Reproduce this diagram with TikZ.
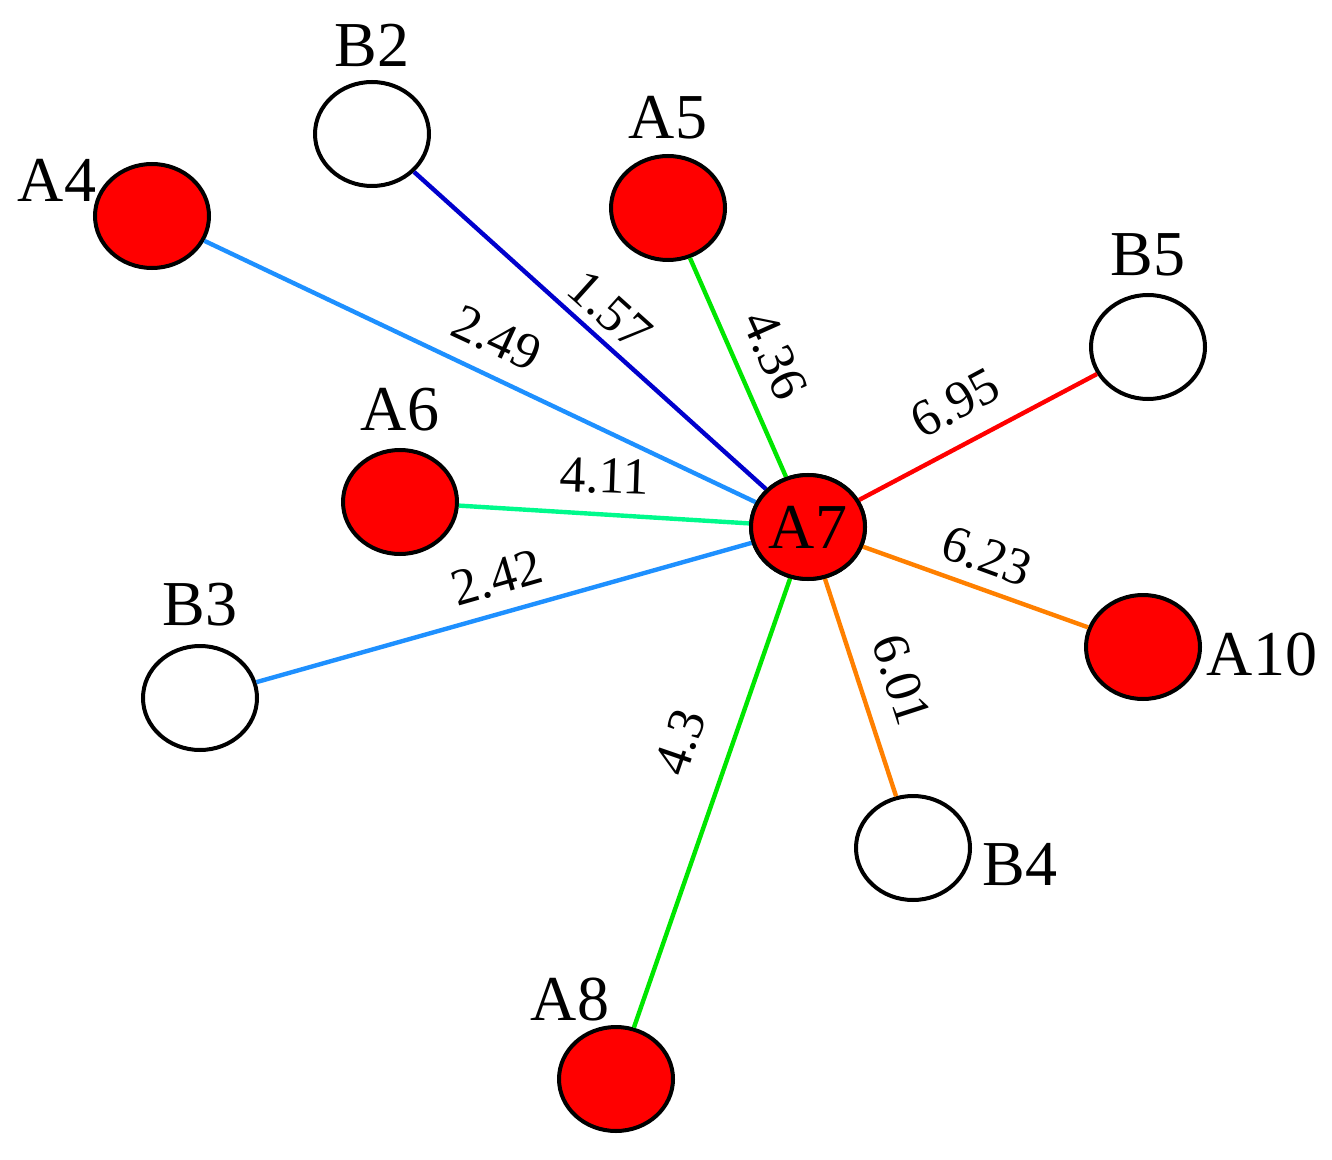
\documentclass[tikz,border=0pt]{standalone}
\usepackage{fontspec}
\setmainfont{Liberation Serif}
\usetikzlibrary{shapes.geometric}
\begin{document}
\begin{tikzpicture}[x=0.5pt,y=-0.5pt,
  v/.style={draw=black,line width=2pt,ellipse,minimum width=57pt,minimum height=52pt,inner sep=0pt},
  red/.style={v,fill=red},
  white/.style={v,fill=white},
  nl/.style={font=\fontsize{32}{32}\selectfont},
  el/.style={font=\fontsize{26}{26}\selectfont},
  e/.style={line width=2.2pt}]
\useasboundingbox (0,0) rectangle (1332,1160);
\definecolor{lb}{RGB}{30,144,255}
\definecolor{db}{RGB}{0,0,205}
\definecolor{gr}{RGB}{0,230,0}
\definecolor{sg}{RGB}{0,250,140}
\definecolor{og}{RGB}{255,128,0}
\definecolor{rd}{RGB}{255,0,0}
\node[white] (B2) at (372,134) {};
\node[red] (A4) at (152,216) {};
\node[red] (A5) at (668,208) {};
\node[white] (B5) at (1148,347) {};
\node[red] (A6) at (400,502) {};
\node[white] (B3) at (200,698) {};
\node[red] (A10) at (1143,647) {};
\node[white] (B4) at (913,848) {};
\node[red] (A8) at (616,1079) {};
\node[red,nl] (A7) at (808,527) {A7};
\draw[e,db] (B2) -- (A7);
\draw[e,lb] (A4) -- (A7);
\draw[e,gr] (A5) -- (A7);
\draw[e,rd] (B5) -- (A7);
\draw[e,sg] (A6) -- (A7);
\draw[e,lb] (B3) -- (A7);
\draw[e,og] (A10) -- (A7);
\draw[e,og] (B4) -- (A7);
\draw[e,gr] (A8) -- (A7);
\node[red,nl] at (A7) {A7};
\node[nl] (lB2) at (372,45) {B2};
\node[nl] (lA4) at (57,180) {A4};
\node[nl] (lA5) at (668,118) {A5};
\node[nl] (lB5) at (1148,255) {B5};
\node[nl] (lA6) at (400,410) {A6};
\node[nl] (lB3) at (200,605) {B3};
\node[nl] (lA10) at (1262,655) {A10};
\node[nl] (lB4) at (1020,865) {B4};
\node[nl] (lA8) at (570,1000) {A8};
\node[el,rotate=-42] (e1) at (610,310) {1.57};
\node[el,rotate=-25] (e2) at (497,338) {2.49};
\node[el,rotate=-66] (e3) at (775,355) {4.36};
\node[el,rotate=28] (e4) at (955,403) {6.95};
\node[el,rotate=-2] (e5) at (605,476) {4.11};
\node[el,rotate=16] (e6) at (497,578) {2.42};
\node[el,rotate=-20] (e7) at (987,556) {6.23};
\node[el,rotate=-72] (e8) at (902,680) {6.01};
\node[el,rotate=71] (e9) at (680,742) {4.3};
\end{tikzpicture}
\end{document}
